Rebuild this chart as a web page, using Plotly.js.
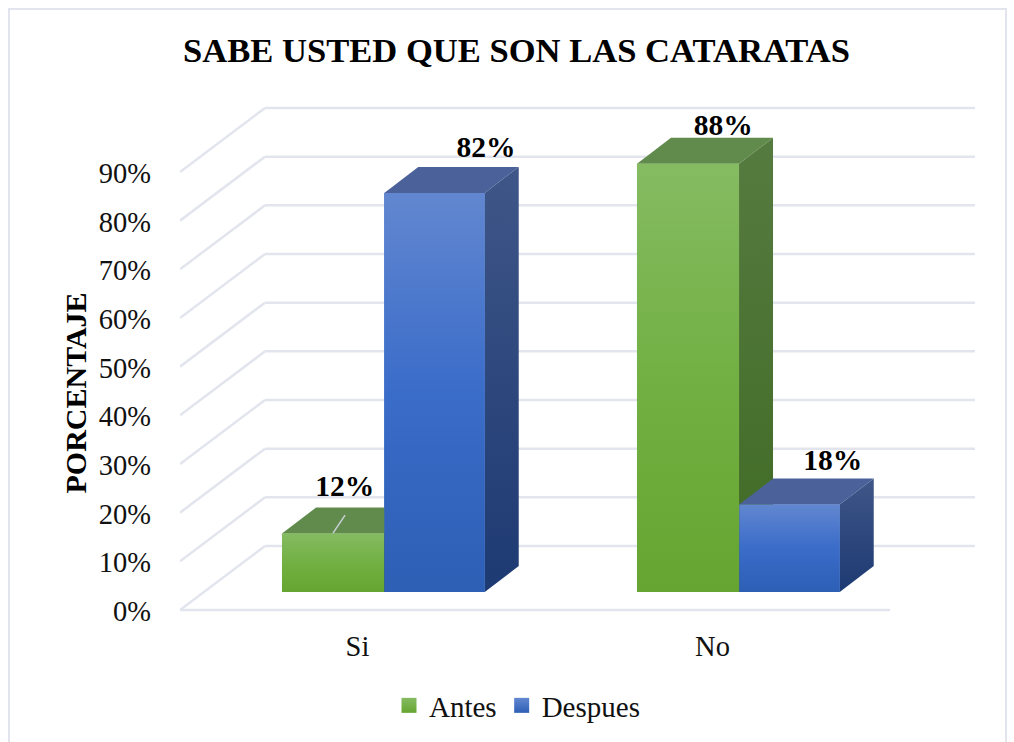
<!DOCTYPE html>
<html>
<head>
<meta charset="utf-8">
<script src="https://cdn.plot.ly/plotly-3.0.1.min.js"></script>
<style>html,body{margin:0;padding:0;background:#fff;overflow:hidden}#chart{width:1014px;height:742px}</style>
</head>
<body>
<div id="chart"></div>
<script>
// --- chart values ---
const categories = ['Si', 'No'];
const categoryPositions = [0.5, 1.5];
const antes = [12, 88];
const despues = [82, 18];
const yTicks = [0, 10, 20, 30, 40, 50, 60, 70, 80, 90];

// --- projection of the oblique "3D" look, in axis units ---
const PLOT = {l: 180, r: 975, t: 100, b: 614, zero: 610};
const xUnit = 355, yUnit = 4.867;
const xMax = (PLOT.r - PLOT.l) / xUnit;
const yMin = (PLOT.zero - PLOT.b) / yUnit, yMax = (PLOT.zero - PLOT.t) / yUnit;
const wallDx = 85 / xUnit, wallDy = 64 / yUnit;   // floor depth
const barDx = 34 / xUnit, barDy = 26 / yUnit;     // bar depth
const barBase = 18 / yUnit;                       // bars stand back from the front edge
const floorEnd = 2;

const antesOffset = -0.2127, despuesOffset = 0.0754;
const antesWidth = 0.2874, despuesWidth = 0.283;

const serif = '"Liberation Serif", "Times New Roman", serif';
const labelSize = 29.5, tickSize = 28.5;
const gridColor = '#e2e5ee';

const polygon = (xs, ys, extra) => Object.assign({
  type: 'scatter', mode: 'lines', x: xs, y: ys, fill: 'toself',
  line: {width: 0}, hoverinfo: 'skip', showlegend: false
}, extra);
const grad = (bottom, top, lo, hi) => ({
  fillgradient: {type: 'vertical', start: lo, stop: hi, colorscale: [[0, bottom], [1, top]]}
});

function barFaces(values, offset, width, c) {
  const out = [];
  values.forEach((v, i) => {
    const x0 = categoryPositions[i] + offset, x1 = x0 + width;
    const y0 = barBase, y1 = barBase + v;
    out.push(polygon([x0, x0 + barDx, x1 + barDx, x1, x0], [y1, y1 + barDy, y1 + barDy, y1, y1],
      {fillcolor: c.top}));
    out.push(polygon([x1, x1 + barDx, x1 + barDx, x1, x1], [y0, y0 + barDy, y1 + barDy, y1, y0],
      grad(c.sideBottom, c.sideTop, y0, y1 + barDy)));
    out.push(polygon([x0, x1, x1, x0, x0], [y0, y0, y1, y1, y0],
      {fillgradient: {type: 'vertical', start: y0, stop: y1, colorscale: [[0, c.frontBottom], [0.5, c.frontMid], [1, c.frontTop]]}}));
  });
  return out;
}

const green = {top: '#618b4c', sideTop: '#567b40', sideBottom: '#3f6a24', frontTop: '#85bb62', frontMid: '#72b043', frontBottom: '#66a531'};
const blue = {top: '#4a6299', sideTop: '#3f5688', sideBottom: '#1d3a72', frontTop: '#6287d0', frontMid: '#3a6cc9', frontBottom: '#2d5fb5'};

const labelFont = {family: serif, size: labelSize, color: '#000000', weight: 'bold'};

const traces = [
  {type: 'bar', x: categoryPositions, y: antes, base: barBase, offset: antesOffset, width: antesWidth,
   marker: {color: green.frontMid}, showlegend: false, hoverinfo: 'skip', name: 'Antes'},
  {type: 'bar', x: categoryPositions, y: despues, base: barBase, offset: despuesOffset, width: despuesWidth,
   marker: {color: blue.frontMid}, showlegend: false, hoverinfo: 'skip', name: 'Despues'},
  ...barFaces(antes, antesOffset, antesWidth, green),
  ...barFaces(despues, despuesOffset, despuesWidth, blue),
  // legend keys
  {type: 'scatter', mode: 'markers', name: 'Antes', x: [null], y: [null], hoverinfo: 'skip',
   marker: {symbol: 'square', size: 15, color: '#85bb62', gradient: {type: 'vertical', color: '#66a531'}}},
  {type: 'scatter', mode: 'markers', name: 'Despues', x: [null], y: [null], hoverinfo: 'skip',
   marker: {symbol: 'square', size: 15, color: '#6287d0', gradient: {type: 'vertical', color: '#2d5fb5'}}},
  // leader line of the 12% label
  {type: 'scatter', mode: 'lines', showlegend: false, hoverinfo: 'skip',
   x: [categoryPositions[0] - 0.069, categoryPositions[0] - 0.035],
   y: [antes[0] + 3.8, antes[0] + 7.5],
   line: {color: '#c9d0d8', width: 1.5}},
  // data labels
  {type: 'scatter', mode: 'text', showlegend: false, hoverinfo: 'skip',
   x: [categoryPositions[0] - 0.036, categoryPositions[1] + 0.03],
   y: [antes[0] + 12.87, antes[1] + 11.05],
   text: antes.map(v => v + '%'), textposition: 'middle center', textfont: labelFont},
  {type: 'scatter', mode: 'text', showlegend: false, hoverinfo: 'skip',
   x: [categoryPositions[0] + 0.362, categoryPositions[1] + 0.339],
   y: [despues[0] + 12.5, despues[1] + 12.2],
   text: despues.map(v => v + '%'), textposition: 'middle center', textfont: labelFont}
];

const gridLine = (x0, y0, x1, y1) => ({
  type: 'line', xref: 'x', yref: 'y', x0, y0, x1, y1, layer: 'below',
  line: {color: gridColor, width: 2.5}
});
const shapes = [];
yTicks.forEach(v => {
  shapes.push(gridLine(0, v, wallDx, v + wallDy));
  shapes.push(gridLine(wallDx, v + wallDy, xMax, v + wallDy));
});
shapes.push(gridLine(0, 0, floorEnd, 0));
// paper-coordinate helpers
const W = PLOT.r - PLOT.l, H = PLOT.b - PLOT.t;
const paperX = px => (px - PLOT.l) / W;
const paperY = py => (PLOT.b - py) / H;
// outer frame of the picture
shapes.push({type: 'rect', xref: 'paper', yref: 'paper', layer: 'below',
  x0: paperX(9), x1: paperX(1006), y0: paperY(770), y1: paperY(9),
  line: {color: gridColor, width: 2}, fillcolor: 'rgba(0,0,0,0)'});

const layout = {
  width: 1014, height: 742,
  paper_bgcolor: '#ffffff', plot_bgcolor: 'rgba(0,0,0,0)',
  margin: {l: PLOT.l, r: 1014 - PLOT.r, t: PLOT.t, b: 742 - PLOT.b, pad: 0},
  barmode: 'overlay',
  font: {family: serif, size: tickSize, color: '#111111'},
  title: {text: 'SABE USTED QUE SON LAS CATARATAS',
    font: {family: serif, size: 34.6, color: '#000000', weight: 'bold'},
    x: 516.5 / 1014, xanchor: 'center', y: 1 - 49.5 / 742, yanchor: 'middle'},
  xaxis: {range: [0, xMax], tickmode: 'array', tickvals: categoryPositions, ticktext: categories,
    showgrid: false, zeroline: false, showline: false, ticks: '', ticklabelstandoff: 12,
    fixedrange: true, tickfont: {family: serif, size: tickSize, color: '#111111'}},
  yaxis: {range: [yMin, yMax], tickmode: 'array', tickvals: yTicks, ticktext: yTicks.map(v => v + '%'),
    showgrid: false, zeroline: false, showline: false, ticks: '', ticklabelstandoff: 28, ticklabelshift: 1,
    fixedrange: true, tickfont: {family: serif, size: tickSize, color: '#111111'}},
  annotations: [{text: 'PORCENTAJE', textangle: -90, showarrow: false,
    xref: 'paper', yref: 'paper', x: paperX(75), y: paperY(393.5), xanchor: 'center', yanchor: 'middle',
    font: {family: serif, size: 30, color: '#000000', weight: 'bold'}}],
  shapes: shapes,
  legend: {orientation: 'h', x: 517 / 1014, xref: 'container', xanchor: 'center', y: 1 - 705.5 / 742, yref: 'container', yanchor: 'middle',
    font: {family: serif, size: 29, color: '#111111'}, bgcolor: 'rgba(0,0,0,0)', itemwidth: 30},
  showlegend: true
};

Plotly.newPlot('chart', traces, layout, {displayModeBar: false, responsive: false});
</script>
</body>
</html>
